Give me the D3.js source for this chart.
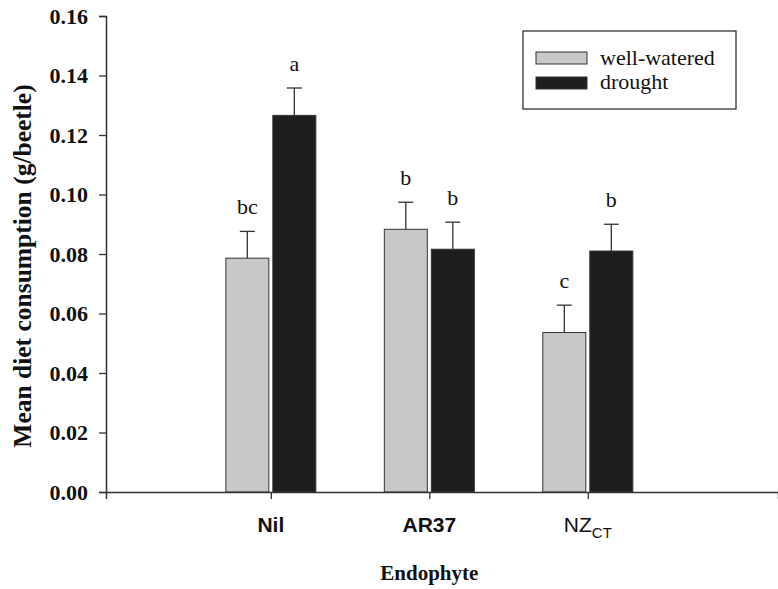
<!DOCTYPE html>
<html lang="en">
<head>
    <meta charset="UTF-8">
    <title>Mean diet consumption</title>
    <script src="https://d3js.org/d3.v7.min.js"></script>
    <style>
        body { margin: 0; background: #fff; }
        svg { display: block; }
    </style>
</head>
<body>
<svg width="778" height="589"></svg>

<script>
    // data
    const endophytes = ["Nil", "AR37", "NZCT"];
    const treatments = ["well-watered", "drought"];
    const wellWatered = [0.0786, 0.0883, 0.0536];
    const drought = [0.1266, 0.0816, 0.0810];
    const seWellWatered = [0.0090, 0.0091, 0.0092];
    const seDrought = [0.0092, 0.0091, 0.0090];
    const lettersWellWatered = ["bc", "b", "c"];
    const lettersDrought = ["a", "b", "b"];
    const yTicks = [0, 0.02, 0.04, 0.06, 0.08, 0.10, 0.12, 0.14, 0.16];

    const svg = d3.select("svg");
    const axisColor = "#333";
    const serif = "'Liberation Serif', 'Times New Roman', serif";
    const sans = "'Liberation Sans', Arial, sans-serif";

    const y = d3.scaleLinear().domain([0, 0.16]).range([492, 16]);
    // categories sit at 0,1,2 on a linear scale so the axis can run past them
    const x = d3.scaleLinear().domain([-1.04, 3.2]).range([106, 778]);

    const barW = 43, gap = 2;

    const groups = [
        { key: treatments[0], vals: wellWatered, se: seWellWatered, letters: lettersWellWatered, fill: "#c8c8c8", dx: -gap - barW },
        { key: treatments[1], vals: drought, se: seDrought, letters: lettersDrought, fill: "#1e1e1e", dx: gap }
    ];

    // bars + error bars + letters
    groups.forEach(g => {
        const data = endophytes.map((e, i) => ({ i, v: g.vals[i], se: g.se[i], l: g.letters[i] }));
        const gg = svg.append("g");

        gg.selectAll("rect").data(data).enter().append("rect")
            .attr("x", d => x(d.i) + g.dx)
            .attr("y", d => y(d.v))
            .attr("width", barW)
            .attr("height", d => y(0) - y(d.v))
            .attr("fill", g.fill)
            .attr("stroke", axisColor)
            .attr("stroke-width", 1);

        const cx = d => x(d.i) + g.dx + barW / 2;

        gg.selectAll("line.err").data(data).enter().append("line")
            .attr("class", "err")
            .attr("x1", cx).attr("x2", cx)
            .attr("y1", d => y(d.v)).attr("y2", d => y(d.v + d.se))
            .attr("stroke", axisColor).attr("stroke-width", 1.3);

        gg.selectAll("line.cap").data(data).enter().append("line")
            .attr("class", "cap")
            .attr("x1", d => cx(d) - 7.5).attr("x2", d => cx(d) + 7.5)
            .attr("y1", d => y(d.v + d.se)).attr("y2", d => y(d.v + d.se))
            .attr("stroke", axisColor).attr("stroke-width", 1.3);

        gg.selectAll("text").data(data).enter().append("text")
            .attr("x", cx)
            .attr("y", d => y(d.v + d.se) - 17)
            .attr("text-anchor", "middle")
            .style("font-family", serif)
            .style("font-size", "22px")
            .attr("fill", "#111")
            .text(d => d.l);
    });

    // y axis
    const yAxis = svg.append("g")
        .attr("transform", "translate(106,0)")
        .call(d3.axisLeft(y).tickValues(yTicks).tickFormat(d3.format(".2f")).tickSizeOuter(0).tickSize(7).tickPadding(11));
    yAxis.select(".domain").attr("stroke", axisColor).attr("stroke-width", 1.5);
    yAxis.selectAll(".tick line").attr("stroke", axisColor).attr("stroke-width", 1.3);
    yAxis.selectAll(".tick text")
        .style("font-family", serif).style("font-size", "22px").style("font-weight", "bold").attr("fill", "#111");

    // x axis
    const xAxis = svg.append("g")
        .attr("transform", "translate(0,492)")
        .call(d3.axisBottom(x).tickValues(endophytes.map((e, i) => i)).tickFormat("").tickSizeOuter(0).tickSize(7));
    xAxis.select(".domain").attr("stroke", axisColor).attr("stroke-width", 1.5);
    xAxis.selectAll(".tick line").attr("stroke", axisColor).attr("stroke-width", 1.3);

    // category labels (NZ with CT subscript)
    endophytes.forEach((e, i) => {
        const t = svg.append("text")
            .attr("x", x(i))
            .attr("y", 532)
            .attr("text-anchor", "middle")
            .style("font-family", sans)
            .style("font-size", "21px")
            .attr("fill", "#111");
        if (e === "NZCT") {
            t.append("tspan").text("NZ");
            t.append("tspan").attr("dy", 6).style("font-size", "15px").text("CT");
        } else {
            t.style("font-weight", "bold").text(e);
        }
    });

    // axis titles
    svg.append("text")
        .attr("x", x(1))
        .attr("y", 580)
        .attr("text-anchor", "middle")
        .style("font-family", serif).style("font-size", "21px").style("font-weight", "bold")
        .attr("fill", "#111")
        .text("Endophyte");

    svg.append("text")
        .attr("transform", "translate(31,266) rotate(-90)")
        .attr("text-anchor", "middle")
        .style("font-family", serif).style("font-size", "25.5px").style("font-weight", "bold")
        .attr("fill", "#111")
        .text("Mean diet consumption (g/beetle)");

    // legend
    const legend = svg.append("g");
    legend.append("rect")
        .attr("x", 523).attr("y", 31).attr("width", 213).attr("height", 78)
        .attr("fill", "#fff").attr("stroke", axisColor).attr("stroke-width", 1.3);
    groups.forEach((g, i) => {
        legend.append("rect")
            .attr("x", 536).attr("y", 52 + i * 25).attr("width", 51).attr("height", 12)
            .attr("fill", g.fill).attr("stroke", axisColor).attr("stroke-width", 1);
        legend.append("text")
            .attr("x", 600).attr("y", 65 + i * 24)
            .style("font-family", serif).style("font-size", "22px")
            .attr("fill", "#111")
            .text(g.key);
    });
</script>
</body>
</html>
